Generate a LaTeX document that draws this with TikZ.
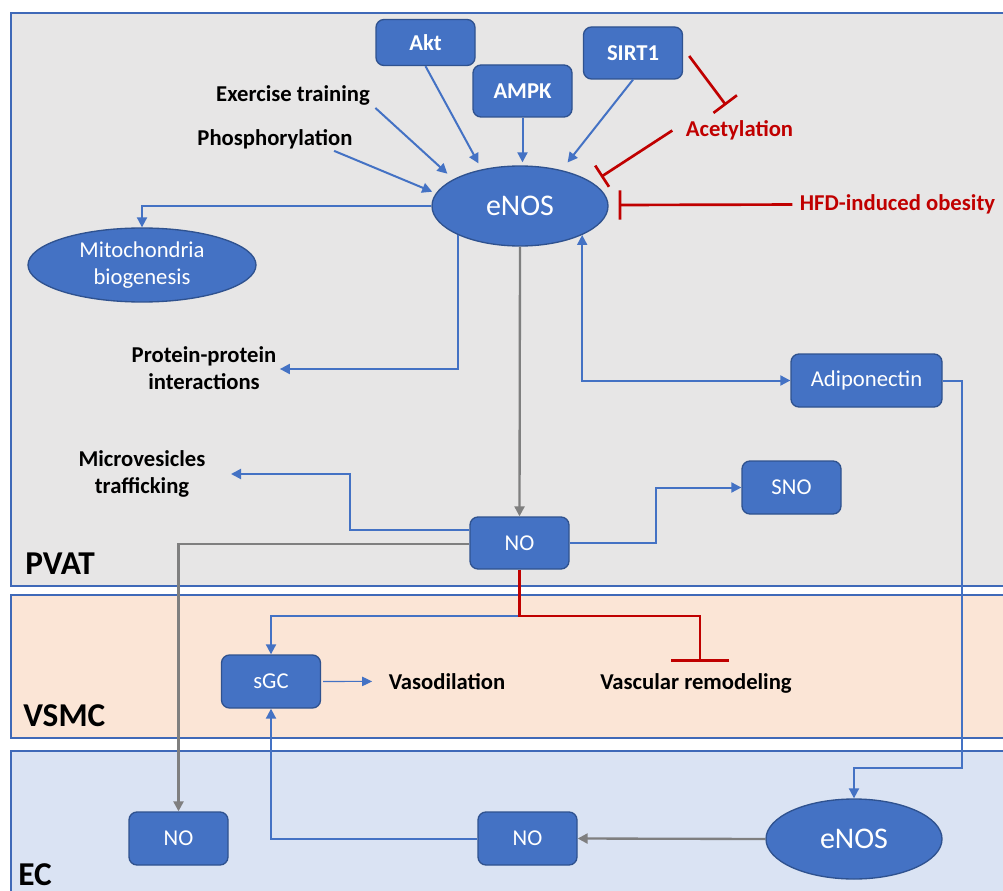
\documentclass[tikz,border=0pt]{standalone}
\usepackage{fontspec}
\setmainfont{Carlito}
\usetikzlibrary{arrows.meta,shapes.geometric}
\definecolor{nodeblue}{HTML}{4472C4}
\definecolor{nodeedge}{HTML}{2F528F}
\definecolor{lineblue}{HTML}{4472C4}
\definecolor{linegray}{HTML}{7F7F7F}
\definecolor{inhred}{HTML}{C00000}
\definecolor{pvatbg}{HTML}{E7E6E6}
\definecolor{vsmcbg}{HTML}{FBE5D6}
\definecolor{ecbg}{HTML}{DAE3F3}
\definecolor{panelborder}{HTML}{3F69B8}
\begin{document}
\begin{tikzpicture}[x=0.75pt,y=-0.75pt,
  box/.style={draw=nodeedge,fill=nodeblue,line width=1pt,rounded corners=6pt,text=white,
    font=\fontsize{17}{20}\selectfont,minimum width=74.25pt,minimum height=39pt,inner sep=0pt},
  boldbox/.style={box,font=\fontsize{17}{20}\selectfont\bfseries},
  ell/.style={ellipse,draw=nodeedge,fill=nodeblue,line width=1pt,text=white,inner sep=0pt},
  lab/.style={font=\fontsize{17}{20.25}\selectfont\bfseries,inner sep=1pt,align=center},
  redlab/.style={lab,text=inhred},
  panel/.style={draw=panelborder,line width=1.2pt},
  paneltext/.style={font=\fontsize{25}{30}\selectfont\bfseries,inner sep=0pt,anchor=base west},
  arr/.style={draw=lineblue,line width=1.5pt,-{Triangle[length=7.5pt,width=7.5pt]}},
  thinarr/.style={draw=lineblue,line width=0.8pt,-{Triangle[length=7.5pt,width=7pt]}},
  garr/.style={draw=linegray,line width=1.75pt,-{Triangle[length=7.5pt,width=7.5pt]}},
  inh/.style={draw=inhred,line width=2pt}
]
\clip (0,0) rectangle (1003,891);
\useasboundingbox (0,0) rectangle (1003,891);

% panels
\draw[panel,fill=pvatbg] (11,13) rectangle (1012,586);
\draw[panel,fill=vsmcbg] (11,595) rectangle (1012,738);
\draw[panel,fill=ecbg] (11,751) rectangle (1012,905);
\node[paneltext] (pvat) at (25,574) {PVAT};
\node[paneltext] (vsmc) at (23,726) {VSMC};
\node[paneltext] (ec) at (18,885) {EC};

% nodes
\node[boldbox,minimum height=34.5pt] (akt) at (425.5,42.5) {Akt};
\node[boldbox] (ampk) at (522.5,91) {AMPK};
\node[boldbox] (sirt) at (633,53) {SIRT1};
\node[ell,minimum width=132pt,minimum height=60pt,font=\fontsize{22.5}{26}\selectfont] (enos) at (520,206) {eNOS};
\node[ell,minimum width=171pt,minimum height=55.5pt,align=center,font=\fontsize{17}{20.25}\selectfont] (mito) at (142,265) {Mitochondria\\biogenesis};
\node[box,minimum width=113.25pt,minimum height=39.75pt] (adipo) at (866.5,380.5) {Adiponectin};
\node[box,minimum height=39.75pt] (sno) at (791.5,487.5) {SNO};
\node[box] (no1) at (519.5,543) {NO};
\node[box,minimum height=39.75pt] (sgc) at (271,681.5) {sGC};
\node[box,minimum height=39.75pt] (no3) at (178.5,838.5) {NO};
\node[box,minimum height=39.75pt] (no2) at (527.5,838.5) {NO};
\node[ell,minimum width=132pt,minimum height=60pt,font=\fontsize{22.5}{26}\selectfont] (enos2) at (854,839) {eNOS};

% labels
\node[lab,anchor=base] (ex) at (293,101.5) {Exercise training};
\node[lab,anchor=base] (phos) at (275,145.7) {Phosphorylation};
\node[redlab,anchor=base] (acet) at (739.5,136.7) {Acetylation};
\node[redlab,anchor=base] (hfd) at (897.5,210.7) {HFD-induced obesity};
\node[lab] (prot) at (204,368) {Protein-protein\\interactions};
\node[lab] (micro) at (142,474) {Microvesicles\\trafficking};
\node[lab,anchor=base] (vaso) at (447,689.3) {Vasodilation};
\node[lab,anchor=base] (vasc) at (696,689.3) {Vascular remodeling};

% coordinates
\coordinate (r1) at (962,768);
\coordinate (s1) at (656,515);
\coordinate (m1) at (350,500);
\coordinate (j) at (520,616);
\coordinate (rb) at (700,616);
\coordinate (vr) at (700,662);

% activating arrows into eNOS
\draw[arr] ([shift={(4,1)}]ex.south east) -- ([shift={(-9,-4)}]enos.156);
\draw[arr] ([shift={(-20,0)}]phos.south east) -- ([shift={(-4,-1)}]enos.171);
\draw[arr] (akt.south) -- ([shift={(-5.6,-5.4)}]enos.134);
\draw[arr,shorten >=2.25pt] (ampk.south) -- (ampk.south |- enos.north);
\draw[arr] (sirt.south) -- ([shift={(-1,-9.5)}]enos.35);

% inhibitions
\draw[inh,-{Bar[width=22pt]}] ([shift={(6,3)}]sirt.east) -- ([shift={(-13.5,-14)}]acet.north);
\draw[inh,-{Bar[width=19pt]}] ([shift={(-12,0)}]acet.west) -- ([shift={(13,-3)}]enos.21);
\draw[inh,-{Bar[width=22pt]}] ([shift={(-6,0)}]hfd.west) -- ([shift={(10,-1)}]enos.east);

% outputs of eNOS
\draw[arr] (enos.west) -| (mito.north);
\draw[arr] (enos.205) |- ([shift={(2,1)}]prot.east);
\draw[garr] (enos.south) -- (no1.north);
\draw[draw=lineblue,line width=1.5pt,{Triangle[length=7.5pt,width=7.5pt]}-{Triangle[length=7.5pt,width=7.5pt]}] (enos.335) |- (adipo.west);
\draw[arr] (adipo.east) -| (r1) -| (enos2.north);

% outputs of NO
\draw[arr] (no1.east) -| (s1) |- (sno.west);
\draw[arr] ([shift={(0,-13)}]no1.west) -| (m1) |- ([shift={(24,0)}]micro.east);
\draw[garr] ([shift={(0,1)}]no1.west) -| (no3.north);
\draw[arr] (j) -| (sgc.north);
\draw[inh,-{Bar[width=43.5pt]}] (no1.south) |- (rb) -- (vr);

% VSMC / EC
\draw[thinarr] ([shift={(2,0)}]sgc.east) -- ([shift={(-15,0)}]vaso.west);
\draw[arr] (no2.west) -| (sgc.south);
\draw[garr] (enos2.west) -- (no2.east);
\end{tikzpicture}
\end{document}
